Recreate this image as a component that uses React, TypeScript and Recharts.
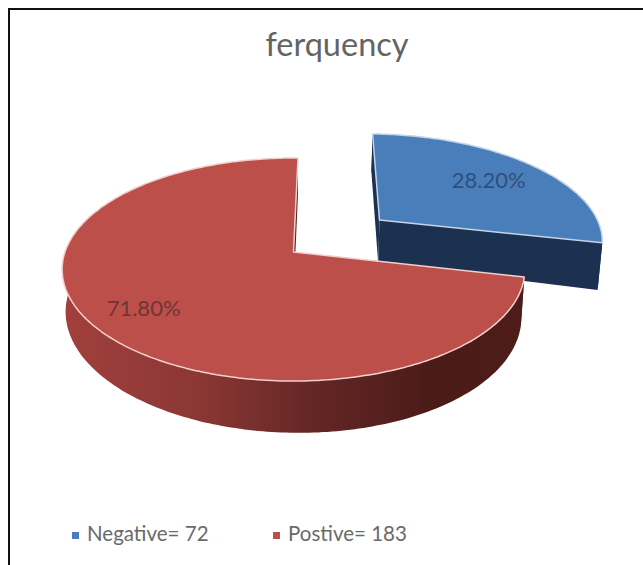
import React from 'react';
import { PieChart, Pie, Legend } from 'recharts';

const categories = ['Negative', 'Postive'];
const counts = [72, 183];
const shares = [28.2, 71.8];
const sliceColors = ['#4a7ebb', '#bd4f4b'];
const edgeColors = ['#c3d4e8', '#f2d0cc'];
const sideColors = ['#1c3150', '#5a2624'];

const pieData = categories.map((name, i) => ({
    name: `${name}= ${counts[i]}`,
    share: shares[i],
    fill: sliceColors[i],
}));

// pie is laid flat: perspective strength and vertical squash of the disc
const PERSPECTIVE = 0.157;
const SQUASH = 0.476;
const EXPLODE = [0.5, 0];
const LABEL_RADIUS = [0.71, 0.77];
const LABEL_COLORS = ['#2f4f7a', '#6e3633'];

const RAD = Math.PI / 180;

type Pt = [number, number];

const project = (cx: number, cy: number, r: number, u: number, v: number): Pt => {
    const w = 1 + PERSPECTIVE * v;
    return [cx + (r * u) / w, cy - (r * SQUASH * v) / w];
};

// matching point on the underside of the disc
const drop = (cx: number, cy: number, [x, y]: Pt): Pt => {
    const depth = 44 + 0.06 * (y - cy) + 0.012 * (x - cx);
    return [cx + (x - cx) * 0.985, y + depth];
};

const toPath = (pts: Pt[]) =>
    'M' + pts.map(([x, y]) => `${x.toFixed(1)},${y.toFixed(1)}`).join('L') + 'Z';

const PieSlice3D = (props: any) => {
    const { cx, cy, outerRadius, startAngle, endAngle, midAngle, fill } = props;
    const idx = sliceColors.indexOf(fill);
    const ou = EXPLODE[idx] * Math.cos(midAngle * RAD);
    const ov = EXPLODE[idx] * Math.sin(midAngle * RAD);
    const at = (u: number, v: number) => project(cx, cy, outerRadius, u + ou, v + ov);

    const arc: Pt[] = [];
    const steps = Math.ceil(Math.abs(endAngle - startAngle));
    for (let s = 0; s <= steps; s++) {
        const a = (startAngle + ((endAngle - startAngle) * s) / steps) * RAD;
        arc.push(at(Math.cos(a), Math.sin(a)));
    }
    const apex = at(0, 0);
    const under = (p: Pt) => drop(cx, cy, p);
    const first = arc[0];
    const last = arc[arc.length - 1];
    const wall = [...arc, ...arc.map(under).reverse()];
    const wallFill = idx === 1 ? 'url(#redWall)' : sideColors[idx];

    return (
        <g>
            <path d={toPath([first, apex, under(apex), under(first)])} fill={sideColors[idx]} />
            <path d={toPath([last, apex, under(apex), under(last)])} fill={sideColors[idx]} />
            <path d={toPath(wall)} fill={wallFill} />
            <path
                d={toPath([apex, ...arc])}
                fill={fill}
                stroke={edgeColors[idx]}
                strokeWidth={1.5}
                strokeLinejoin="round"
            />
        </g>
    );
};

const renderShareLabel = (props: any) => {
    const { cx, cy, outerRadius, midAngle, index } = props;
    const a = midAngle * RAD;
    const ou = (EXPLODE[index] + LABEL_RADIUS[index]) * Math.cos(a);
    const ov = (EXPLODE[index] + LABEL_RADIUS[index]) * Math.sin(a);
    const [x, y] = project(cx, cy, outerRadius, ou, ov);
    return (
        <text
            x={x}
            y={y}
            fill={LABEL_COLORS[index]}
            fontSize={22}
            textAnchor="middle"
            dominantBaseline="central"
            fontFamily="Lato, sans-serif"
        >
            {`${shares[index].toFixed(2)}%`}
        </text>
    );
};

const renderLegend = ({ payload }: any) => (
    <div style={{ position: 'relative', height: 30, fontFamily: 'Lato, sans-serif', fontSize: 20.5, color: '#6a6a6a' }}>
        {(payload || []).map((item: any, i: number) => (
            <div key={item.value} style={{ position: 'absolute', left: i * 201, top: 0, whiteSpace: 'nowrap', lineHeight: '30px' }}>
                <span
                    style={{
                        display: 'inline-block',
                        width: 7,
                        height: 7,
                        background: item.color,
                        marginRight: 8,
                        verticalAlign: 'middle',
                    }}
                />
                {item.value}
            </div>
        ))}
    </div>
);

export default function App() {
    return (
        <div
            style={{
                position: 'absolute',
                left: 0,
                top: 0,
                width: 643,
                height: 565,
                overflow: 'hidden',
                background: '#ffffff',
            }}
        >
            <div style={{ position: 'absolute', left: 8, top: 8, right: 0, bottom: 0, borderLeft: '2px solid #111', borderTop: '2px solid #111' }} />
            <PieChart
                width={643}
                height={565}
                margin={{ top: 0, right: 0, bottom: 0, left: 0 }}
                style={{ position: 'absolute', left: 0, top: 0 }}
            >
                <defs>
                    <linearGradient id="redWall" gradientUnits="userSpaceOnUse" x1={62} y1={0} x2={522} y2={0}>
                        <stop offset="0%" stopColor="#a2403d" />
                        <stop offset="30%" stopColor="#8a3734" />
                        <stop offset="55%" stopColor="#642625" />
                        <stop offset="80%" stopColor="#4b1b18" />
                        <stop offset="100%" stopColor="#4e1c19" />
                    </linearGradient>
                </defs>
                <text x={337} y={56} textAnchor="middle" fontSize={32.5} fill="#636363" fontFamily="Lato, sans-serif">
                    ferquency
                </text>
                <Pie
                    data={pieData}
                    dataKey="share"
                    nameKey="name"
                    cx={293.5}
                    cy={252}
                    outerRadius={228.5}
                    startAngle={88.7}
                    endAngle={-271.3}
                    stroke="none"
                    shape={PieSlice3D}
                    label={renderShareLabel}
                    labelLine={false}
                    isAnimationActive={false}
                />
                <Legend
                    content={renderLegend}
                    wrapperStyle={{ position: 'absolute', left: 72, top: 518, width: 400, height: 30 }}
                />
            </PieChart>
        </div>
    );
}
